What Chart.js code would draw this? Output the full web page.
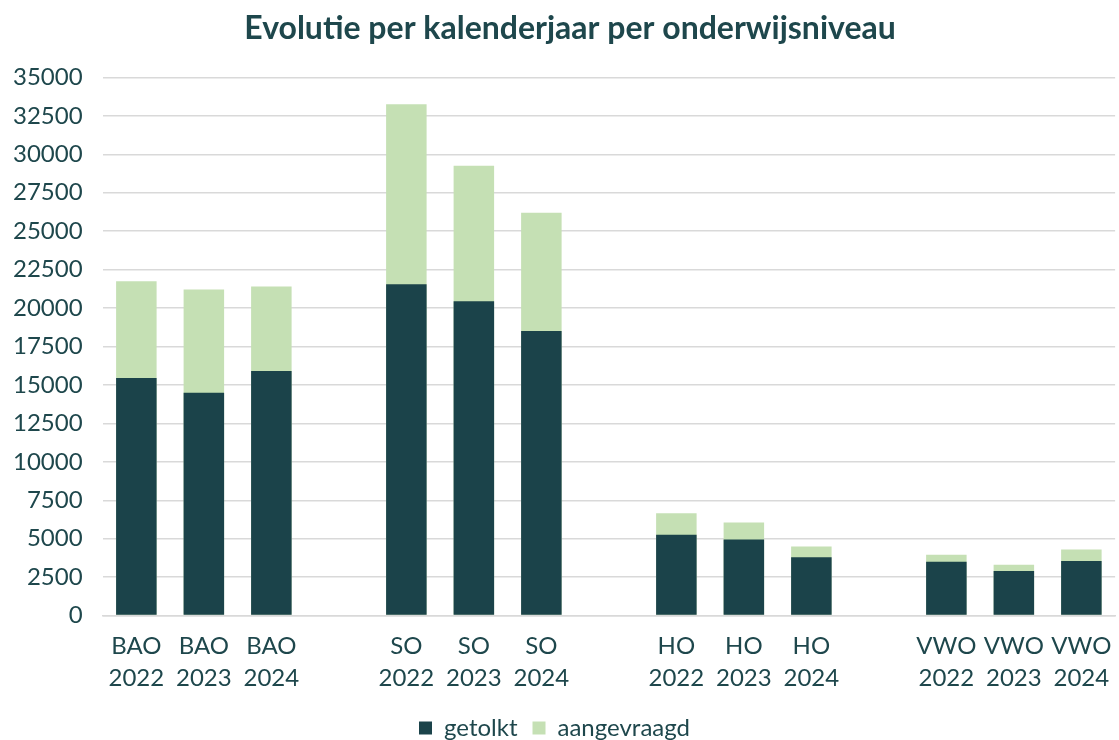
<!DOCTYPE html>
<html>
<head>
<meta charset="utf-8">
<script src="https://cdn.jsdelivr.net/npm/chart.js@4"></script>
<style>
  html, body { margin: 0; padding: 0; background: #fff; }
  #wrap { width: 1119px; height: 740px; }
</style>
</head>
<body>
<div id="wrap"><canvas id="chart"></canvas></div>
<script>
// categories (empty slots keep the gaps between the groups)
const categories = [
  ['BAO', '2022'], ['BAO', '2023'], ['BAO', '2024'], '',
  ['SO', '2022'], ['SO', '2023'], ['SO', '2024'], '',
  ['HO', '2022'], ['HO', '2023'], ['HO', '2024'], '',
  ['VWO', '2022'], ['VWO', '2023'], ['VWO', '2024']
];

const getolkt = [
  15450, 14500, 15900, null,
  21550, 20450, 18500, null,
  5250, 4950, 3800, null,
  3500, 2900, 3550
];
const aangevraagd = [
  21750, 21200, 21400, null,
  33250, 29250, 26200, null,
  6650, 6050, 4500, null,
  3950, 3300, 4300
];

const yTicks = { min: 0, max: 35000, step: 2500 };

const textColor = '#1e474c';
const font = "'Lato', 'Open Sans', sans-serif";

new Chart(document.getElementById('chart'), {
  type: 'bar',
  data: {
    labels: categories,
    datasets: [
      {
        label: 'getolkt',
        data: getolkt,
        backgroundColor: '#1b434a',
        barPercentage: 0.6,
        categoryPercentage: 1,
      },
      {
        label: 'aangevraagd',
        data: aangevraagd,
        backgroundColor: '#c5e0b4',
        barPercentage: 0.6,
        categoryPercentage: 1,
      }
    ]
  },
  options: {
    responsive: true,
    maintainAspectRatio: false,
    animation: false,
    layout: { padding: { left: -7, right: 3, top: 4, bottom: -10 } },
    plugins: {
      title: {
        display: true,
        // leading spaces nudge the centred title a bit to the right, like the original
        text: '    Evolutie per kalenderjaar per onderwijsniveau',
        color: textColor,
        font: { family: font, size: 32, weight: 'bold' },
        padding: { top: 5, bottom: 30 }
      },
      legend: {
        position: 'bottom',
        labels: {
          color: textColor,
          font: { family: font, size: 24 },
          boxWidth: 13,
          boxHeight: 13,
          padding: 15
        }
      },
      tooltip: { enabled: false }
    },
    scales: {
      x: {
        stacked: true,
        grid: { display: false },
        border: { color: '#d9d9d9', width: 1.5 },
        ticks: {
          color: textColor,
          font: { family: font, size: 24, lineHeight: 1.3 },
          maxRotation: 0,
          autoSkip: false,
          padding: 7.5
        }
      },
      y: {
        stacked: false,
        min: yTicks.min,
        max: yTicks.max,
        grid: { color: '#d9d9d9', lineWidth: 1.5, drawTicks: false },
        border: { display: false },
        ticks: {
          stepSize: yTicks.step,
          autoSkip: false,
          color: textColor,
          font: { family: font, size: 24 },
          padding: 20,
          callback: v => String(v)
        }
      }
    }
  }
});
</script>
</body>
</html>
